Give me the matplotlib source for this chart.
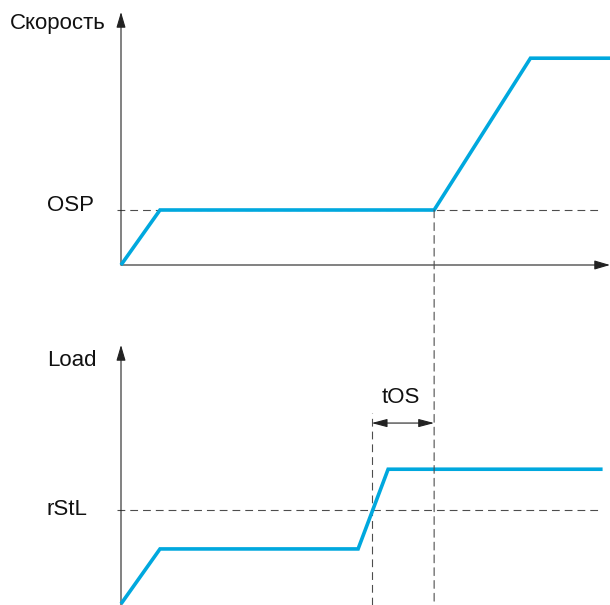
import numpy as np
import matplotlib
matplotlib.use("Agg")
import matplotlib.pyplot as plt
from matplotlib.patches import ConnectionPatch
from matplotlib.transforms import blended_transform_factory

# ---------------- data ----------------
speed_t = [0.0, 1.0, 8.03, 10.5, 12.55]
speed_v = [0.0, 1.0, 1.0, 3.76, 3.76]
osp_level = 1.0

load_t = [0.0, 1.0, 6.08, 6.85, 12.35]
load_v = [0.0, 1.0, 1.0, 2.45, 2.45]
rstl_level = 1.71

t_os_end = 8.03          # end of tOS (speed leaves OSP)
t_max = 12.54
speed_ymax = 4.6
load_ymin, load_ymax = -0.02, 4.71

labels_speed = "Скорость"
label_load = "Load"
label_osp = "OSP"
label_rstl = "rStL"
label_tos = "tOS"

# crossing of load with rStL
seg_t = load_t[2:4]
seg_v = load_v[2:4]
t_cross = float(np.interp(rstl_level, seg_v, seg_t)) - 0.03

# ---------------- style ----------------
plt.rcParams['font.family'] = ['Liberation Sans', 'DejaVu Sans']
BLUE = '#00A8DE'
AX = '#222222'
DASH = '#4d4d4d'
FS = 16.0
DASHSTYLE = (0, (7, 4.5))

fig = plt.figure(figsize=(6.1, 6.05), dpi=100)
W, H = 610, 605
ax1 = fig.add_axes([121 / W, (H - 265) / H, (W - 121) / W, (265 - 12) / H])
ax2 = fig.add_axes([121 / W, 0.0, (W - 121) / W, (605 - 345) / H])
for ax in (ax1, ax2):
    ax.set_axis_off()
    ax.set_xlim(0, t_max)
ax1.set_ylim(0, speed_ymax)
ax2.set_ylim(load_ymin, load_ymax)

arrow_kw = dict(arrowstyle="-|>,head_length=0.95,head_width=0.28", color=AX,
                lw=0.8, mutation_scale=10, shrinkA=0, shrinkB=0)

# top axes arrows
ax1.annotate("", xy=(0, 1), xytext=(0, 0), xycoords='axes fraction',
             arrowprops=arrow_kw, annotation_clip=False)
ax1.annotate("", xy=(1, 0), xytext=(0, 0), xycoords='axes fraction',
             arrowprops=arrow_kw, annotation_clip=False)
# bottom vertical axis
ax2.annotate("", xy=(0, 1), xytext=(0, 0), xycoords='axes fraction',
             arrowprops=arrow_kw, annotation_clip=False)

# dashed reference lines
ax1.plot([-0.1, 12.3], [osp_level, osp_level], color=DASH, lw=0.8,
         ls=DASHSTYLE, clip_on=False, zorder=1)
ax2.plot([-0.1, 12.3], [rstl_level, rstl_level], color=DASH, lw=0.8,
         ls=DASHSTYLE, clip_on=False, zorder=1)

con = ConnectionPatch(xyA=(t_os_end, osp_level), coordsA=ax1.transData,
                      xyB=(t_os_end, load_ymin), coordsB=ax2.transData,
                      color=DASH, lw=0.8, linestyle=DASHSTYLE, zorder=1)
fig.add_artist(con)
ax2.plot([t_cross, t_cross], [load_ymin, 3.47], color=DASH, lw=0.8,
         ls=DASHSTYLE, clip_on=False, zorder=1)

# curves
ax1.plot(speed_t, speed_v, color=BLUE, lw=2.6, clip_on=False,
         solid_joinstyle='miter', solid_capstyle='butt', zorder=3)
ax2.plot(load_t, load_v, color=BLUE, lw=2.6, clip_on=False,
         solid_joinstyle='miter', solid_capstyle='butt', zorder=3)

# tOS dimension arrow
y_dim = 3.29
ax2.annotate("", xy=(t_cross, y_dim), xytext=(t_os_end, y_dim),
             arrowprops=dict(arrowstyle="<|-|>,head_length=0.95,head_width=0.25",
                             color=AX, lw=0.8, mutation_scale=10,
                             shrinkA=0, shrinkB=0),
             annotation_clip=False)
ax2.text((t_cross + t_os_end) / 2 - 0.05, 3.75, label_tos, fontsize=FS,
         ha='center', va='center', color='#111111')

# labels
fig.text(10 / W, (H - 24) / H, labels_speed, fontsize=FS, ha='left',
         va='center', color='#111111')
fig.text(47 / W, (H - 360) / H, label_load, fontsize=FS, ha='left',
         va='center', color='#111111')
tr1 = blended_transform_factory(fig.transFigure, ax1.transData)
ax1.text(47 / W, osp_level + 0.09, label_osp, fontsize=FS, ha='left',
         va='center', color='#111111', transform=tr1)
tr2 = blended_transform_factory(fig.transFigure, ax2.transData)
ax2.text(47 / W, rstl_level, label_rstl, fontsize=FS, ha='left',
         va='center', color='#111111', transform=tr2)

fig.savefig("out.png", dpi=100, facecolor='white')
